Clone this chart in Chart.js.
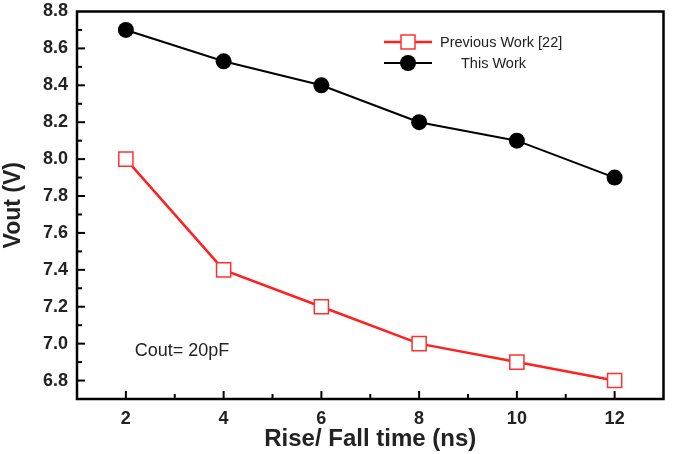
<!DOCTYPE html>
<html>
<head>
<meta charset="utf-8">
<script src="https://cdn.jsdelivr.net/npm/chart.js@4.4.0/dist/chart.umd.min.js"></script>
<style>
  html, body { margin: 0; padding: 0; background: #fff; }
  #wrap { width: 675px; height: 454px; position: relative; }
</style>
</head>
<body>
<div id="wrap"><canvas id="c" width="675" height="454"></canvas></div>
<script>
const riseFallTimes = [2, 4, 6, 8, 10, 12];
const previousWork = [8.0, 7.4, 7.2, 7.0, 6.9, 6.8];
const thisWork = [8.7, 8.53, 8.4, 8.2, 8.1, 7.9];
const xTicks = [2, 4, 6, 8, 10, 12];
const yTicks = [6.8, 7.0, 7.2, 7.4, 7.6, 7.8, 8.0, 8.2, 8.4, 8.6, 8.8];
const seriesNames = ['Previous Work [22]', 'This Work'];
const annotationText = 'Cout= 20pF';

const FONT = '"Liberation Sans", Arial, sans-serif';

const framePlugin = {
  id: 'frame',
  afterDatasetsDraw(chart) {
    const ctx = chart.ctx, a = chart.chartArea;
    const xs = chart.scales.x, ys = chart.scales.y;
    ctx.save();
    ctx.strokeStyle = '#000';
    ctx.lineWidth = 2.5;
    ctx.strokeRect(a.left, a.top, a.right - a.left, a.bottom - a.top);
    ctx.lineWidth = 2;
    for (let v = 1; v <= 13; v++) {
      const px = xs.getPixelForValue(v);
      if (px <= a.left + 1 || px >= a.right - 1) continue;
      const len = (v % 2 === 0) ? 8 : 5;
      ctx.beginPath(); ctx.moveTo(px, a.bottom); ctx.lineTo(px, a.bottom - len); ctx.stroke();
    }
    for (let i = 68; i <= 88; i++) {
      const v = i / 10;
      const py = ys.getPixelForValue(v);
      if (py <= a.top + 1 || py >= a.bottom - 1) continue;
      const len = (i % 2 === 0) ? 8 : 5;
      ctx.beginPath(); ctx.moveTo(a.left, py); ctx.lineTo(a.left + len, py); ctx.stroke();
    }
    ctx.fillStyle = '#222';
    ctx.font = '18px ' + FONT;
    ctx.textBaseline = 'middle';
    ctx.textAlign = 'left';
    ctx.fillText(annotationText, xs.getPixelForValue(2.18), ys.getPixelForValue(6.96));
    const lx0 = 384, lx1 = 432, lxm = 408;
    const ly1 = 42, ly2 = 63;
    ctx.lineWidth = 2.5;
    ctx.strokeStyle = '#ff2020';
    ctx.beginPath(); ctx.moveTo(lx0, ly1); ctx.lineTo(lx1, ly1); ctx.stroke();
    ctx.fillStyle = '#fff';
    ctx.lineWidth = 1.5;
    ctx.strokeStyle = '#ff3030';
    ctx.fillRect(lxm - 7, ly1 - 7, 14, 14);
    ctx.strokeRect(lxm - 7, ly1 - 7, 14, 14);
    ctx.strokeStyle = '#000';
    ctx.lineWidth = 2;
    ctx.beginPath(); ctx.moveTo(lx0, ly2); ctx.lineTo(lx1, ly2); ctx.stroke();
    ctx.fillStyle = '#000';
    ctx.beginPath(); ctx.arc(lxm, ly2, 8, 0, Math.PI * 2); ctx.fill();
    ctx.fillStyle = '#222';
    ctx.font = '14.5px ' + FONT;
    ctx.fillText(seriesNames[0], 440, ly1 + 1);
    ctx.fillText(seriesNames[1], 461, ly2 + 1);
    ctx.restore();
  }
};

new Chart(document.getElementById('c'), {
  type: 'line',
  data: {
    datasets: [
      {
        label: seriesNames[0],
        data: riseFallTimes.map((x, i) => ({ x, y: previousWork[i] })),
        borderColor: '#ff2020',
        borderWidth: 2.5,
        pointStyle: 'rect',
        pointRadius: 10,
        pointBorderWidth: 1.5,
        pointBackgroundColor: '#ffffff',
        pointBorderColor: '#ff3030',
        tension: 0
      },
      {
        label: seriesNames[1],
        data: riseFallTimes.map((x, i) => ({ x, y: thisWork[i] })),
        borderColor: '#000000',
        borderWidth: 2,
        pointStyle: 'circle',
        pointRadius: 8,
        pointBorderWidth: 0,
        pointBackgroundColor: '#000000',
        pointBorderColor: '#000000',
        tension: 0
      }
    ]
  },
  options: {
    responsive: false,
    animation: false,
    devicePixelRatio: 1,
    layout: { padding: { left: 0, top: 9, right: 10, bottom: 0 } },
    plugins: { legend: { display: false }, tooltip: { enabled: false } },
    scales: {
      x: {
        type: 'linear',
        min: 1, max: 13,
        afterFit(s) { s.height = 55; s.paddingLeft = 0; s.paddingRight = 0; },
        afterBuildTicks(s) { s.ticks = xTicks.map(v => ({ value: v })); },
        grid: { display: false, drawTicks: false },
        border: { display: false },
        ticks: {
          color: '#222',
          font: { family: FONT, size: 18, weight: 'bold' },
          padding: 9,
          maxRotation: 0
        },
        title: {
          display: true,
          text: 'Rise/ Fall time (ns)',
          color: '#222',
          font: { family: FONT, size: 24, weight: 'bold' },
          padding: { top: 0, bottom: 0 }
        }
      },
      y: {
        type: 'linear',
        min: 6.7, max: 8.8,
        afterFit(s) { s.width = 77; s.paddingTop = 0; s.paddingBottom = 0; },
        afterBuildTicks(s) { s.ticks = yTicks.map(v => ({ value: v })); },
        grid: { display: false, drawTicks: false },
        border: { display: false },
        ticks: {
          color: '#222',
          font: { family: FONT, size: 18, weight: 'bold' },
          padding: 9,
          callback: v => Number(v).toFixed(1)
        },
        title: {
          display: true,
          text: 'Vout (V)',
          color: '#222',
          font: { family: FONT, size: 23, weight: 'bold' },
          padding: { top: 0, bottom: 0 }
        }
      }
    }
  },
  plugins: [framePlugin]
});
</script>
</body>
</html>
